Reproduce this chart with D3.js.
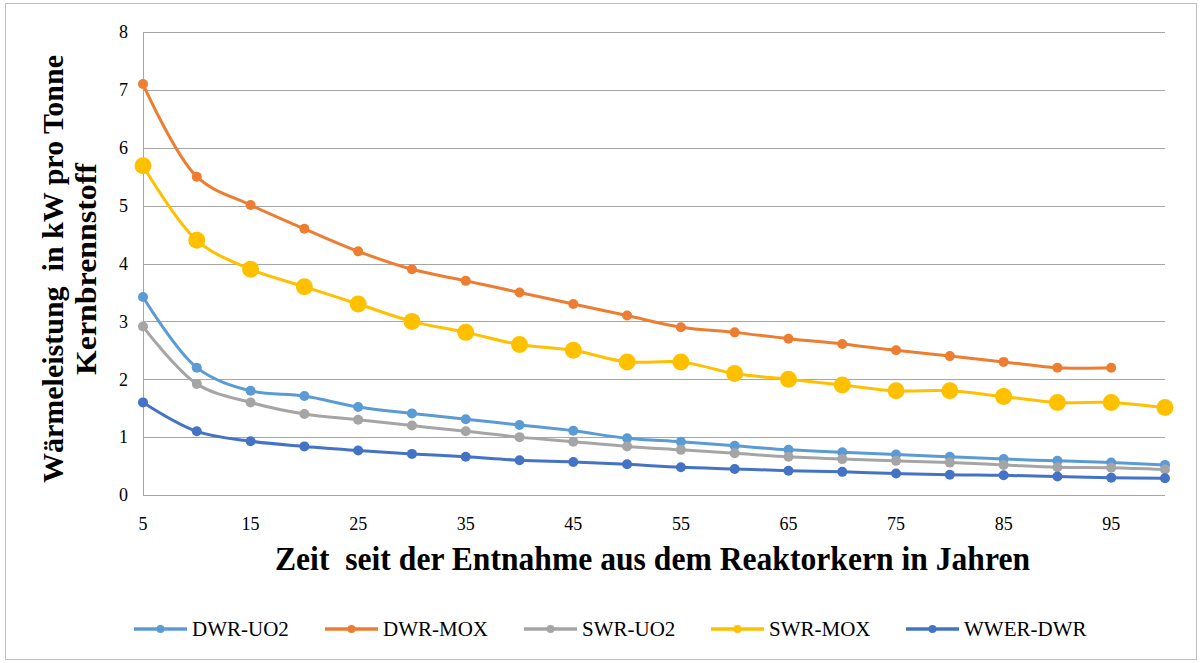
<!DOCTYPE html>
<html>
<head>
<meta charset="utf-8">
<script src="https://cdn.jsdelivr.net/npm/d3@7"></script>
<style>
  body { margin: 0; background: #fff; }
  svg text { font-family: 'Liberation Serif', 'Times New Roman', 'DejaVu Serif', serif; }
</style>
</head>
<body>
<div id="chart"></div>
<script>
// data
const years = [5, 10, 15, 20, 25, 30, 35, 40, 45, 50, 55, 60, 65, 70, 75, 80, 85, 90, 95, 100];
const xTickLabels = [5, 15, 25, 35, 45, 55, 65, 75, 85, 95];
const yTicks = [0, 1, 2, 3, 4, 5, 6, 7, 8];

const dwrUO2 = [3.42, 2.2, 1.8, 1.71, 1.52, 1.41, 1.31, 1.21, 1.11, 0.98, 0.92, 0.85, 0.78, 0.74, 0.7, 0.66, 0.62, 0.59, 0.56, 0.52];
const dwrMOX = [7.1, 5.5, 5.01, 4.6, 4.21, 3.9, 3.7, 3.5, 3.3, 3.1, 2.9, 2.81, 2.7, 2.61, 2.5, 2.4, 2.3, 2.2, 2.2];
const swrUO2 = [2.91, 1.92, 1.6, 1.4, 1.3, 1.2, 1.1, 1.0, 0.92, 0.84, 0.78, 0.72, 0.66, 0.62, 0.59, 0.56, 0.52, 0.48, 0.47, 0.44];
const swrMOX = [5.69, 4.4, 3.9, 3.6, 3.3, 3.0, 2.81, 2.6, 2.5, 2.3, 2.3, 2.1, 2.0, 1.9, 1.8, 1.8, 1.7, 1.6, 1.6, 1.51];
const wwerDWR = [1.6, 1.1, 0.93, 0.84, 0.77, 0.71, 0.66, 0.6, 0.57, 0.53, 0.48, 0.45, 0.42, 0.4, 0.37, 0.35, 0.34, 0.32, 0.3, 0.29];

const seriesNames = ["DWR-UO2", "DWR-MOX", "SWR-UO2", "SWR-MOX", "WWER-DWR"];
const seriesValues = [dwrUO2, dwrMOX, swrUO2, swrMOX, wwerDWR];
const seriesColors = ["#5b9bd5", "#ed7d31", "#a5a5a5", "#ffc000", "#4472c4"];
const markerRadius = [5, 5, 5, 8.5, 5];

const serif = "Liberation Serif, Times New Roman, DejaVu Serif, serif";

// dimensions
const width = 1203, height = 663;
const margin = { left: 143, right: 38, top: 32, bottom: 168 };

const svg = d3.select("#chart").append("svg")
    .attr("width", width).attr("height", height)
    .attr("font-family", serif);

// outer frame
svg.append("rect")
    .attr("x", 5.5).attr("y", 3.5)
    .attr("width", 1191).attr("height", 656)
    .attr("fill", "none").attr("stroke", "#bfbfbf").attr("stroke-width", 1);

const x = d3.scalePoint().domain(years).range([margin.left, width - margin.right]);
const y = d3.scaleLinear().domain([0, 8]).range([height - margin.bottom, margin.top]);

// gridlines
svg.selectAll("line.grid")
    .data(yTicks)
    .join("line")
    .attr("class", "grid")
    .attr("x1", margin.left).attr("x2", width - margin.right)
    .attr("y1", d => Math.round(y(d)) + 0.5).attr("y2", d => Math.round(y(d)) + 0.5)
    .attr("stroke", "#a6a6a6").attr("stroke-width", 1);

// left axis line
svg.append("line")
    .attr("x1", margin.left + 0.5).attr("x2", margin.left + 0.5)
    .attr("y1", y(8)).attr("y2", y(0))
    .attr("stroke", "#a6a6a6");

// y tick labels
svg.selectAll("text.ytick")
    .data(yTicks)
    .join("text")
    .attr("class", "ytick")
    .attr("x", 128)
    .attr("y", d => y(d))
    .attr("dy", "0.35em")
    .attr("text-anchor", "end")
    .attr("font-family", serif)
    .attr("font-size", 18)
    .text(d => d);

// x tick labels
svg.selectAll("text.xtick")
    .data(xTickLabels)
    .join("text")
    .attr("class", "xtick")
    .attr("x", d => x(d))
    .attr("y", 530)
    .attr("text-anchor", "middle")
    .attr("font-family", serif)
    .attr("font-size", 18)
    .text(d => d);

// axis titles (condensed bold, as in the original)
svg.append("text")
    .attr("x", 275).attr("y", 570)
    .attr("font-family", serif)
    .attr("font-size", 34).attr("font-weight", 700)
    .attr("textLength", 755).attr("lengthAdjust", "spacingAndGlyphs")
    .style("white-space", "pre")
    .text("Zeit  seit der Entnahme aus dem Reaktorkern in Jahren");

const yTitle = svg.append("g").attr("transform", "translate(0,269) rotate(-90)");
yTitle.append("text")
    .attr("x", -214).attr("y", 63)
    .attr("font-family", serif)
    .attr("font-size", 29).attr("font-weight", 700)
    .attr("textLength", 428).attr("lengthAdjust", "spacingAndGlyphs")
    .style("white-space", "pre")
    .text("Wärmeleistung  in kW pro Tonne");
yTitle.append("text")
    .attr("x", -106).attr("y", 96)
    .attr("font-family", serif)
    .attr("font-size", 29).attr("font-weight", 700)
    .attr("textLength", 212).attr("lengthAdjust", "spacingAndGlyphs")
    .text("Kernbrennstoff");

// lines and markers
const line = d3.line()
    .x((d, i) => x(years[i]))
    .y(d => y(d))
    .curve(d3.curveCatmullRom.alpha(0.5));

seriesValues.forEach((vals, s) => {
    const g = svg.append("g");
    g.append("path")
        .datum(vals)
        .attr("d", line)
        .attr("fill", "none")
        .attr("stroke", seriesColors[s])
        .attr("stroke-width", 3)
        .attr("stroke-linejoin", "round");
    g.selectAll("circle")
        .data(vals)
        .join("circle")
        .attr("cx", (d, i) => x(years[i]))
        .attr("cy", d => y(d))
        .attr("r", markerRadius[s])
        .attr("fill", seriesColors[s]);
});

// legend
const legendX = [134, 325, 524, 711, 906];
const legend = svg.selectAll("g.legend")
    .data(seriesNames)
    .join("g")
    .attr("class", "legend")
    .attr("transform", (d, i) => `translate(${legendX[i]},629)`);
legend.append("line")
    .attr("x1", 0).attr("x2", 53)
    .attr("stroke", (d, i) => seriesColors[i])
    .attr("stroke-width", 3.5);
legend.append("circle")
    .attr("cx", 26.5).attr("r", 4)
    .attr("fill", (d, i) => seriesColors[i]);
legend.append("text")
    .attr("x", 58).attr("y", 0).attr("dy", "0.35em")
    .attr("font-family", serif)
    .attr("font-size", 21)
    .text(d => d);
</script>
</body>
</html>
